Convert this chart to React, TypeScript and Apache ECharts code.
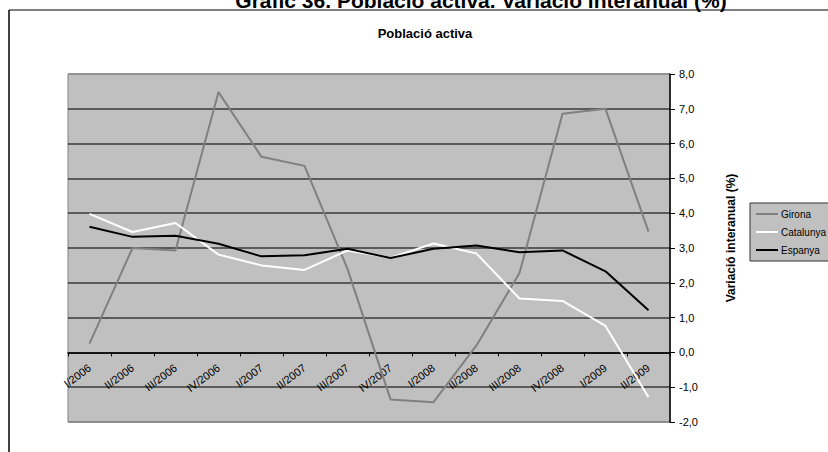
import React, { useEffect, useRef } from "react";
import * as echarts from "echarts";

const categories = [
  "I/2006", "II/2006", "III/2006", "IV/2006",
  "I/2007", "II/2007", "III/2007", "IV/2007",
  "I/2008", "II/2008", "III/2008", "IV/2008",
  "I/2009", "II/2009",
];
const girona = [0.25, 3.0, 2.93, 7.48, 5.62, 5.36, 2.4, -1.35, -1.43, 0.2, 2.28, 6.86, 7.0, 3.47];
const catalunya = [3.98, 3.46, 3.72, 2.81, 2.5, 2.37, 2.93, 2.72, 3.13, 2.84, 1.55, 1.48, 0.76, -1.29];
const espanya = [3.61, 3.32, 3.35, 3.12, 2.76, 2.79, 2.98, 2.71, 2.98, 3.07, 2.88, 2.93, 2.33, 1.21];

const mainTitle = "Gràfic 36. Població activa. Variació interanual (%)";
const subTitle = "Població activa";
const yAxisName = "Variació interanual (%)";
const yMin = -2;
const yMax = 8;

export default function App() {
  const ref = useRef<HTMLDivElement>(null);
  useEffect(() => {
    if (!ref.current) return;
    const chart = echarts.init(ref.current, undefined, { renderer: "svg" });
    const font = "'Liberation Sans', Arial, Helvetica, sans-serif";
    const gridTop = 74;
    const gridBottom = 30;
    const plotH = 452 - gridTop - gridBottom;
    const zeroOffset = -plotH * (0 - yMin) / (yMax - yMin);
    const splitColors = ["#808080", "#3a3a3a", "#3a3a3a", "#3a3a3a", "#3a3a3a", "#3a3a3a", "#3a3a3a", "#3a3a3a", "#3a3a3a", "#3a3a3a", "#8a8a8a"];
    chart.setOption({
      animation: false,
      backgroundColor: "#ffffff",
      textStyle: { fontFamily: font },
      graphic: [
        { type: "line", shape: { x1: 9, y1: 10, x2: 828, y2: 10 }, style: { stroke: "#808080", lineWidth: 2 } },
        { type: "line", shape: { x1: 9, y1: 10, x2: 9, y2: 452 }, style: { stroke: "#000000", lineWidth: 1.5 } },
        {
          type: "text", x: 481, y: 0,
          style: { text: mainTitle, font: `bold 21px ${font}`, fill: "#000", align: "center", verticalAlign: "middle" },
        },
        {
          type: "text", x: 425, y: 33,
          style: { text: subTitle, font: `bold 13px ${font}`, fill: "#000", align: "center", verticalAlign: "middle" },
        },
        {
          type: "text", x: 731, y: 238, rotation: Math.PI / 2,
          style: { text: yAxisName, font: `bold 12px ${font}`, fill: "#000", align: "center", verticalAlign: "middle" },
        },
      ],
      legend: {
        orient: "vertical",
        left: 750,
        top: 203,
        width: 72,
        backgroundColor: "#C0C0C0",
        borderColor: "#333333",
        borderWidth: 1,
        padding: [6, 8, 6, 6],
        itemGap: 8,
        itemWidth: 22,
        itemHeight: 2,
        icon: "rect",
        textStyle: { fontSize: 10, color: "#000", fontFamily: font, padding: [0, 0, 0, -2] },
        data: ["Girona", "Catalunya", "Espanya"],
      },
      grid: {
        left: 68, right: 158, top: gridTop, bottom: gridBottom,
        show: true, backgroundColor: "#C0C0C0", borderColor: "#808080", borderWidth: 1,
        containLabel: false,
        outerBoundsMode: "none",
      },
      xAxis: {
        type: "category",
        data: categories,
        boundaryGap: true,
        offset: zeroOffset,
        axisLine: { onZero: false, lineStyle: { color: "#000", width: 1.5 } },
        axisTick: { show: true, inside: false, length: 4, lineStyle: { color: "#000" } },
        axisLabel: { interval: 0, rotate: 37, fontSize: 11, color: "#000", margin: 14, fontFamily: font },
        splitLine: { show: false },
      },
      yAxis: {
        type: "value",
        position: "right",
        min: yMin,
        max: yMax,
        interval: 1,
        axisLine: { show: true, lineStyle: { color: "#000", width: 1.5 } },
        axisTick: { show: true, length: 5, lineStyle: { color: "#000" } },
        axisLabel: {
          fontSize: 11, color: "#000", margin: 9, fontFamily: font,
          formatter: (v: number) => v.toFixed(1).replace(".", ","),
        },
        splitLine: { show: true, lineStyle: { color: splitColors, width: 1.5 } },
      },
      series: [
        { name: "Girona", type: "line", data: girona, symbol: "none", lineStyle: { color: "#808080", width: 2 }, itemStyle: { color: "#808080" } },
        { name: "Catalunya", type: "line", data: catalunya, symbol: "none", lineStyle: { color: "#ffffff", width: 2 }, itemStyle: { color: "#ffffff" } },
        { name: "Espanya", type: "line", data: espanya, symbol: "none", lineStyle: { color: "#000000", width: 2 }, itemStyle: { color: "#000000" } },
      ],
    });
    return () => chart.dispose();
  }, []);
  return <div ref={ref} style={{ position: "absolute", left: 0, top: 0, width: 828, height: 452 }} />;
}
